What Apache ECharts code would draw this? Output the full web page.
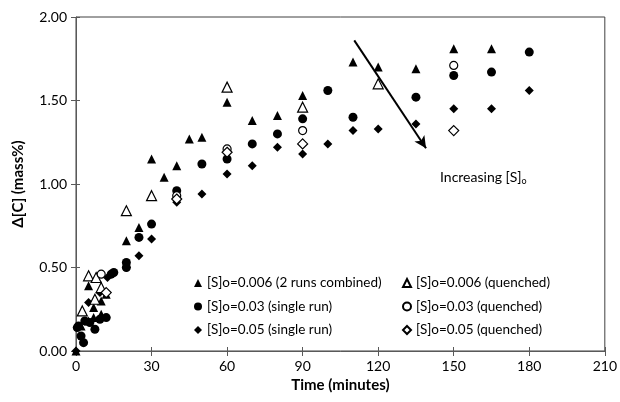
<!DOCTYPE html>
<html><head><meta charset="utf-8">
<script src="https://cdn.jsdelivr.net/npm/echarts@6/dist/echarts.min.js"></script>
<style>html,body{margin:0;padding:0;background:#fff}#c{width:620px;height:402px}</style>
</head><body><div id="c"></div>
<script>
// ---- data: [time (min), delta C (mass%)]
var seriesNames = ['[S]o=0.006 (2 runs combined)','[S]o=0.006 (quenched)','[S]o=0.03 (single run)','[S]o=0.03 (quenched)','[S]o=0.05 (single run)','[S]o=0.05 (quenched)'];
var tri006 = [[0,0],[2,0.15],[5,0.18],[5,0.39],[7,0.20],[7,0.26],[10,0.22],[10,0.30],[12,0.34],[20,0.66],[25,0.74],[30,1.15],[35,1.04],[40,1.11],[45,1.27],[50,1.28],[60,1.49],[70,1.38],[80,1.41],[90,1.53],[110,1.73],[120,1.70],[135,1.69],[150,1.81],[165,1.81]];
var tri006q = [[2.5,0.24],[5,0.45],[7.5,0.31],[8,0.44],[10,0.38],[20,0.84],[30,0.93],[60,1.58],[90,1.46],[120,1.60]];
var cir003 = [[0.5,0.14],[1,0.15],[2,0.09],[3,0.05],[3.5,0.18],[5.5,0.17],[7.5,0.13],[9.5,0.19],[12,0.20],[14,0.46],[15,0.47],[20,0.53],[20,0.50],[25,0.68],[30,0.76],[40,0.96],[50,1.12],[60,1.15],[70,1.24],[80,1.30],[90,1.39],[100,1.56],[110,1.40],[135,1.52],[150,1.65],[165,1.67],[180,1.79]];
var cir003q = [[10,0.46],[40,0.93],[60,1.21],[90,1.32],[150,1.71]];
var dia005 = [[0,0],[5,0.29],[9.5,0.35],[12.5,0.44],[20,0.50],[25,0.57],[30,0.67],[40,0.89],[50,0.94],[60,1.06],[70,1.11],[80,1.22],[90,1.18],[100,1.24],[110,1.32],[120,1.33],[135,1.36],[150,1.45],[165,1.45],[180,1.56]];
var dia005q = [[12,0.35],[40,0.91],[60,1.19],[90,1.24],[150,1.32]];
var arrowLine = [[110.5,1.86],[139,1.214]];
var annotation = 'Increasing [S]';
var xTicks = {min:0, max:210, interval:30};
var yTicks = {min:0, max:2, interval:0.5};

var FONT = 'Lato';
var chart = echarts.init(document.getElementById('c'), null, {renderer:'canvas'});
function filled(sym,size){return {symbol:sym,symbolSize:size,itemStyle:{color:'#000',opacity:1}};}
function open(sym,size){return {symbol:sym,symbolSize:size,itemStyle:{color:'#fff',borderColor:'#000',borderWidth:1.2,opacity:1}};}
var styles = [filled('triangle',9),open('triangle',10),filled('circle',9),open('circle',8),filled('diamond',9),open('diamond',10)];
var datas = [tri006,tri006q,cir003,cir003q,dia005,dia005q];
var series = datas.map(function(d,i){
  return Object.assign({type:'scatter',name:seriesNames[i],data:d,animation:false,z:i%2?3:2}, styles[i]);
});
series[0].markLine = {silent:true,animation:false,symbol:['none','arrow'],symbolSize:[9,12],
  lineStyle:{color:'#000',width:2,type:'solid',opacity:1},label:{show:false},
  data:[[{coord:arrowLine[0]},{coord:arrowLine[1]}]]};

var legendText = {fontFamily:FONT,fontSize:13.5,color:'#000'};
var axisCol = '#595959';
function innerAxis(t,pos){
  return {type:'value',position:pos,min:t.min,max:t.max,interval:t.interval,
    axisLine:{show:false},axisLabel:{show:false},splitLine:{show:false},
    axisTick:{show:true,inside:true,length:4,lineStyle:{color:axisCol}}};
}
chart.setOption({
  backgroundColor:'#fff',
  textStyle:{fontFamily:FONT},
  grid:{left:76,right:14,top:17,bottom:51,show:true,borderColor:'#404040',borderWidth:1},
  xAxis:[{type:'value',position:'bottom',min:xTicks.min,max:xTicks.max,interval:xTicks.interval,
    name:'Time (minutes)',nameLocation:'middle',nameGap:26,
    nameTextStyle:{fontFamily:FONT,fontSize:15,fontWeight:'bold',color:'#000'},
    axisLine:{lineStyle:{color:axisCol,width:1}},
    axisTick:{show:true,length:5,lineStyle:{color:axisCol}},
    axisLabel:{fontFamily:FONT,fontSize:14,color:'#000',margin:8},
    splitLine:{show:false}}, innerAxis(xTicks,'bottom')],
  yAxis:[{type:'value',position:'left',min:yTicks.min,max:yTicks.max,interval:yTicks.interval,
    name:'\u0394[C] (mass%)',nameLocation:'middle',nameGap:50,
    nameTextStyle:{fontFamily:FONT,fontSize:15,fontWeight:'bold',color:'#000'},
    axisLine:{show:true,lineStyle:{color:axisCol,width:1}},
    axisTick:{show:true,length:5,lineStyle:{color:axisCol}},
    axisLabel:{fontFamily:FONT,fontSize:14,color:'#000',margin:9,formatter:function(v){return v.toFixed(2);}},
    splitLine:{show:false}}, innerAxis(yTicks,'left')],
  legend:[
    {data:[seriesNames[0],seriesNames[2],seriesNames[4]],orient:'vertical',left:189,top:271,itemWidth:8,itemHeight:8,itemGap:9.5,textStyle:legendText,selectedMode:false},
    {data:[seriesNames[1],seriesNames[3],seriesNames[5]],orient:'vertical',left:397,top:271,itemWidth:8,itemHeight:8,itemGap:9.5,textStyle:legendText,selectedMode:false}
  ],
  graphic:[{type:'text',left:440,top:170,style:{
    text:'{a|'+annotation+'}{b|o}',
    rich:{a:{fontFamily:FONT,fontSize:14,fill:'#000'},b:{fontFamily:FONT,fontSize:9,fill:'#000',padding:[9,0,0,0]}}}}],
  series:series
});
</script></body></html>
